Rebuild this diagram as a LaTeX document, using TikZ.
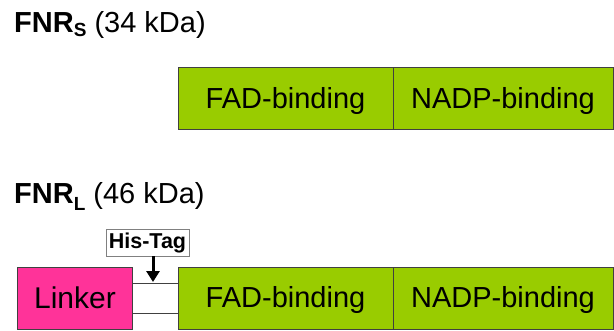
\documentclass[tikz,border=0pt]{standalone}
\usepackage{fontspec}
\setmainfont{Liberation Sans}
\usetikzlibrary{arrows.meta}
\definecolor{fnrgreen}{RGB}{153,204,0}
\definecolor{fnrpink}{RGB}{255,51,153}
\definecolor{edgegray}{RGB}{64,64,64}
\begin{document}
\begin{tikzpicture}[x=1pt,y=-1pt,
  dombox/.style={draw=edgegray,line width=0.8pt,fill=fnrgreen},
  boxtext/.style={font=\fontsize{29}{29}\selectfont,inner sep=0pt,anchor=base},
  titletext/.style={font=\fontsize{29}{29}\selectfont,inner sep=0pt,anchor=base west},
  tagbox/.style={draw=gray,fill=white,line width=0.6pt,font=\fontsize{21.5}{21.5}\selectfont\bfseries,minimum width=83pt,minimum height=27pt,inner sep=0pt},
  thinline/.style={draw=edgegray,line width=0.6pt}
]
\useasboundingbox (0,0) rectangle (614,330);

% FNR_S
\node[titletext] (ts) at (14,32) {\textbf{FNR\raisebox{-4.5pt}{\fontsize{19}{19}\selectfont S}} (34 kDa)};
\draw[dombox] (178,67) rectangle (393,129);
\draw[dombox] (393,67) rectangle (613,129);
\node[boxtext] (fad1) at (285.5,108) {FAD-binding};
\node[boxtext] (nadp1) at (503,108) {NADP-binding};

% FNR_L
\node[titletext] (tl) at (14,203) {\textbf{FNR\raisebox{-7pt}{\fontsize{19}{19}\selectfont L}} (46 kDa)};
\node[draw=edgegray,line width=0.8pt,fill=fnrpink,minimum width=115pt,minimum height=62pt,inner sep=0pt] (linker) at (74.5,298) {};
\node[boxtext,font=\fontsize{30}{30}\selectfont] (linkertext) at (75,308) {Linker};
\draw[dombox] (178,267) rectangle (393,329);
\draw[dombox] (393,267) rectangle (613,329);
\node[boxtext] (fad2) at (285.5,307) {FAD-binding};
\node[boxtext] (nadp2) at (503,307) {NADP-binding};
\coordinate (g2) at (178,298);
\draw[thinline] (linker.east |- 0,283) -- (g2 |- 0,283);
\draw[thinline] (linker.east |- 0,313) -- (g2 |- 0,313);
\coordinate (tip) at (153,282);

\node[tagbox] (tag) at (147.5,242.5) {His-Tag};
\draw[line width=3pt,-{Triangle[length=11pt,width=13pt]}] (tag.south -| tip) -- (tip);
\end{tikzpicture}
\end{document}
